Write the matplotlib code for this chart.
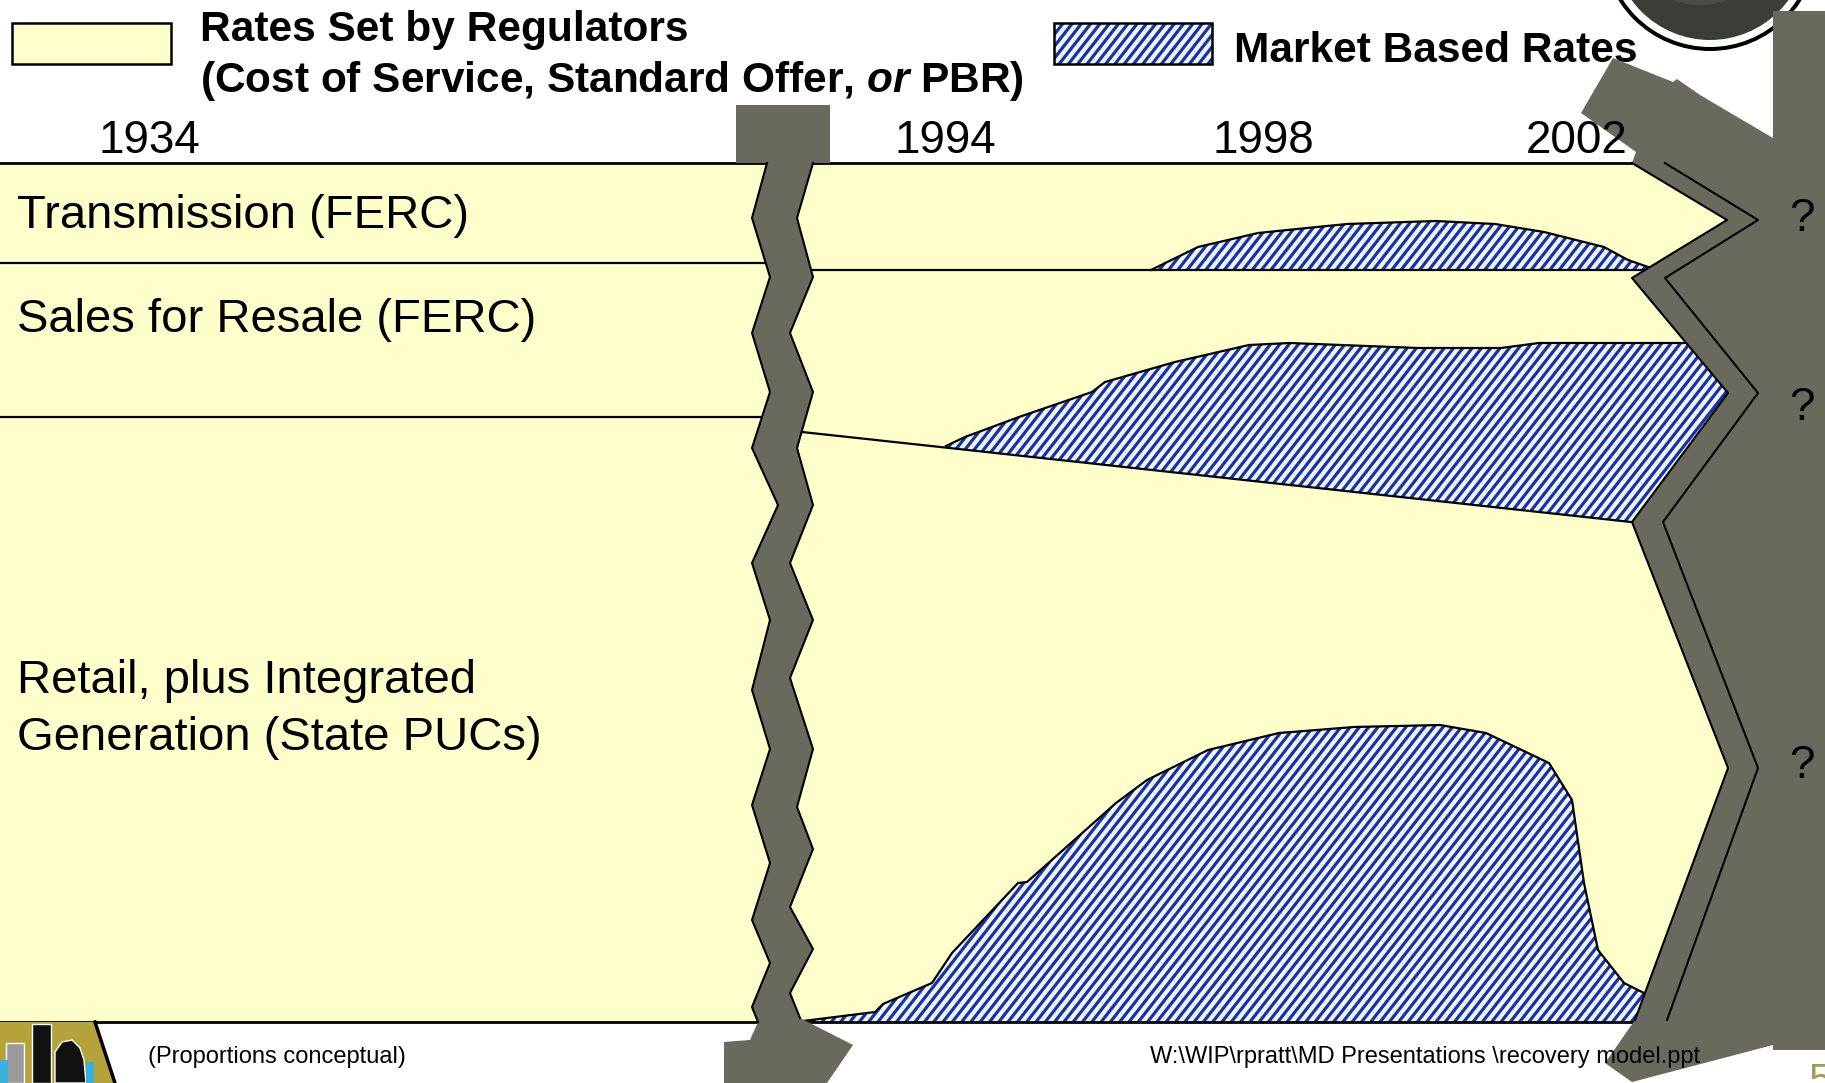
import numpy as np
import matplotlib.pyplot as plt
from matplotlib.patches import Polygon, Rectangle, Circle
from matplotlib.collections import LineCollection

plt.rcParams['font.family'] = ['Liberation Sans', 'DejaVu Sans']
plt.rcParams['mathtext.fontset'] = 'custom'
plt.rcParams['mathtext.it'] = 'Liberation Sans:italic:bold'
plt.rcParams['mathtext.rm'] = 'Liberation Sans:bold'

# timeline labels (slide is laid out in pixel units)
years = ['1934', '1994', '1998', '2002']
year_x = [149, 945, 1263, 1577]

band_labels = ['Transmission (FERC)', 'Sales for Resale (FERC)',
               'Retail, plus Integrated', 'Generation (State PUCs)']
band_label_y = [216, 320, 681, 738]

# band boundaries left of the break / right of the break
left_bounds = [163, 263, 417, 1022]
right_trans_line = 270
sales_line_x = [802, 1631]
sales_line_y = [432, 522]

# market based rates profiles (top edge of hatched areas)
trans_x = [1151, 1198, 1258, 1307, 1347, 1436, 1495, 1544, 1604, 1628, 1651]
trans_top = [270, 247, 233, 228, 224, 221, 224, 232, 247, 260, 268]

sales_x = [946, 965, 1019, 1092, 1105, 1175, 1249, 1290, 1418, 1501, 1539, 1700]
sales_top = [446, 437, 417, 392, 382, 362, 345, 343, 348, 348, 343, 343]

retail_x = [803, 875, 883, 932, 952, 1018, 1027, 1116, 1147, 1208, 1279, 1354,
            1440, 1486, 1549, 1572, 1584, 1598, 1624, 1644, 1660]
retail_top = [1021, 1012, 1004, 983, 953, 883, 882, 803, 780, 750, 733, 727,
              725, 733, 763, 800, 883, 950, 983, 993, 1020]

question_y = [219, 408, 766]

YELLOW = '#ffffcc'
GRAY = '#696a5d'
HATCH_BG = '#f2f5ff'
HATCH_FG = '#1633a6'

fig = plt.figure(figsize=(18.25, 10.83), dpi=100)
ax = fig.add_axes([0, 0, 1, 1])
ax.set_xlim(0, 1825)
ax.set_ylim(1083, 0)
ax.axis('off')

# yellow body
ax.add_patch(Rectangle((0, left_bounds[0]), 1750, left_bounds[-1] - left_bounds[0],
                       facecolor=YELLOW, edgecolor='none', zorder=1))


def hatched(verts, z=2):
    verts = np.asarray(verts, dtype=float)
    patch = Polygon(verts, closed=True, facecolor=HATCH_BG, edgecolor='none', zorder=z)
    ax.add_patch(patch)
    tan_a = np.tan(np.radians(52))
    period = 9.3
    xmin, ymin = verts.min(axis=0)
    xmax, ymax = verts.max(axis=0)
    c0 = ymin + xmin * tan_a
    c1 = ymax + xmax * tan_a
    segs = []
    for c in np.arange(c0 - period * tan_a, c1 + period * tan_a, period * tan_a):
        segs.append([(xmin - 5, c - (xmin - 5) * tan_a), (xmax + 5, c - (xmax + 5) * tan_a)])
    lc = LineCollection(segs, colors=HATCH_FG, linewidths=2.3, zorder=z)
    ax.add_collection(lc)
    lc.set_clip_path(patch)


# transmission hatch
hatched(list(zip(trans_x, trans_top)) + [(x, right_trans_line) for x in trans_x[::-1]])
ax.plot(trans_x, trans_top, color='black', lw=1.6, zorder=3)

# sales for resale hatch, sitting on the slanted line
slope = (sales_line_y[1] - sales_line_y[0]) / (sales_line_x[1] - sales_line_x[0])
base_x = [1631, sales_x[0]]
base_y = [sales_line_y[0] + (x - sales_line_x[0]) * slope for x in base_x]
hatched(list(zip(sales_x, sales_top)) + [(1745, 392), (1640, 530)] + list(zip(base_x, base_y)))
ax.plot(sales_x, sales_top, color='black', lw=1.6, zorder=3)

# retail hatch
hatched(list(zip(retail_x, retail_top)) + [(retail_x[-1], 1022), (retail_x[0], 1022)])
ax.plot(retail_x, retail_top, color='black', lw=1.6, zorder=3)

# band lines
ax.plot([0, 1700], [left_bounds[0]] * 2, color='black', lw=2, zorder=3)
ax.plot([0, 1700], [left_bounds[-1]] * 2, color='black', lw=2, zorder=3)
for yb in left_bounds[1:3]:
    ax.plot([0, 780], [yb, yb], color='black', lw=1.6, zorder=3)
ax.plot([790, 1700], [right_trans_line] * 2, color='black', lw=1.6, zorder=3)
ax.plot(sales_line_x, sales_line_y, color='black', lw=1.6, zorder=3)

# left break (zigzag)
zl_y = [163, 218, 277, 333, 392, 448, 505, 563, 620, 690, 749, 805, 863, 920, 963, 1007, 1022]
zl_x = [767, 752, 770, 752, 770, 752, 778, 752, 770, 752, 770, 752, 770, 752, 770, 752, 758]
zr_y = [163, 218, 277, 333, 392, 448, 505, 563, 620, 678, 749, 807, 849, 907, 949, 993, 1018]
zr_x = [813, 797, 813, 790, 813, 797, 813, 790, 813, 790, 813, 797, 813, 790, 813, 790, 800]
brk = ([(736, 105), (830, 105), (830, 163)] + list(zip(zr_x, zr_y)) +
       [(853, 1045), (827, 1083), (724, 1083), (724, 1042), (750, 1040)] +
       list(zip(zl_x, zl_y))[::-1] + [(736, 163)])
ax.add_patch(Polygon(brk, closed=True, facecolor=GRAY, edgecolor='none', zorder=5))
ax.plot(zl_x, zl_y, color='black', lw=1.5, zorder=6)
ax.plot(zr_x, zr_y, color='black', lw=1.5, zorder=6)

# globe picture peeking in at the top right
ax.add_patch(Circle((1710, -57), 108, facecolor='black', edgecolor='none', zorder=4))
ax.add_patch(Circle((1710, -57), 104, facecolor='white', edgecolor='none', zorder=4))
ax.add_patch(Circle((1710, -57), 97, facecolor='#3a3e36', edgecolor='none', zorder=4))
ax.add_patch(Circle((1700, -75), 80, facecolor='#4a4f46', edgecolor='none', zorder=4))

# right break shape
outer_x = [1632, 1727, 1632, 1728, 1632, 1728, 1635]
outer_y = [163, 220, 278, 393, 522, 768, 1020]
inner_x = [1665, 1758, 1665, 1758, 1663, 1758, 1667]
inner_y = [163, 220, 278, 393, 522, 768, 1020]
right = ([(1773, 11), (1825, 11), (1825, 1050), (1773, 1050), (1773, 1045),
          (1632, 1082), (1605, 1063)] +
         list(zip(outer_x, outer_y))[::-1] +
         [(1636, 152), (1581, 113), (1613, 58), (1673, 82), (1677, 79),
          (1700, 95), (1773, 138)])
ax.add_patch(Polygon(right, closed=True, facecolor=GRAY, edgecolor='none', zorder=5))
ax.plot(outer_x, outer_y, color='black', lw=1.5, zorder=6)
ax.plot(inner_x, inner_y, color='black', lw=1.5, zorder=6)

# legend
ax.add_patch(Rectangle((12, 23), 159, 41, facecolor=YELLOW, edgecolor='black', lw=1.8, zorder=4))
ax.text(200, 30, 'Rates Set by Regulators', fontsize=30.5, fontweight='bold',
        va='center', ha='left', zorder=8)
ax.text(200, 81, r'(Cost of Service, Standard Offer, $\mathit{or}$ PBR)', fontsize=30.5,
        fontweight='bold', va='center', ha='left', zorder=8)
hatched([(1054, 23), (1212, 23), (1212, 64), (1054, 64)], z=4)
ax.add_patch(Rectangle((1054, 23), 158, 41, facecolor='none', edgecolor='black', lw=1.8, zorder=4))
ax.text(1234, 51, 'Market Based Rates', fontsize=30.5, fontweight='bold',
        va='center', ha='left', zorder=4)

# years
for yr, x in zip(years, year_x):
    ax.text(x, 141, yr, fontsize=33, ha='center', va='center', zorder=8)

# band labels
for lab, y in zip(band_labels, band_label_y):
    ax.text(17, y, lab, fontsize=34, ha='left', va='center', zorder=8)

for y in question_y:
    ax.text(1802, y, '?', fontsize=33, ha='center', va='center', zorder=8)

# footer
ax.text(148, 1057, '(Proportions conceptual)', fontsize=17, ha='left', va='center', zorder=8)
ax.text(1150, 1057, r'W:\WIP\rpratt\MD Presentations \recovery model.ppt', fontsize=17,
        ha='left', va='center', zorder=8)
ax.text(1808, 1062, '5', fontsize=30, color='#a89c55', ha='left', va='top', zorder=8)

# logo, bottom left
ax.add_patch(Polygon([(0, 1022), (95, 1022), (115, 1083), (0, 1083)], closed=True,
                     facecolor='#b4a23a', edgecolor='none', zorder=4))
ax.plot([95, 115], [1022, 1083], color='black', lw=2.5, zorder=4)
ax.add_patch(Rectangle((6, 1043), 18, 40, facecolor='#9a9a9a', edgecolor='white', lw=1, zorder=4))
ax.add_patch(Rectangle((32, 1024), 19, 59, facecolor='#111111', edgecolor='white', lw=1, zorder=4))
ax.add_patch(Polygon([(55, 1083), (55, 1052), (62, 1042), (72, 1040), (80, 1048), (84, 1060),
                      (86, 1083)], closed=True, facecolor='#111111', edgecolor='white',
                     lw=1, zorder=4))
ax.add_patch(Rectangle((0, 1060), 8, 23, facecolor='#3ab0dc', edgecolor='none', zorder=4))
ax.add_patch(Rectangle((86, 1062), 8, 21, facecolor='#3ab0dc', edgecolor='none', zorder=4))

fig.savefig('out.png', dpi=100)
